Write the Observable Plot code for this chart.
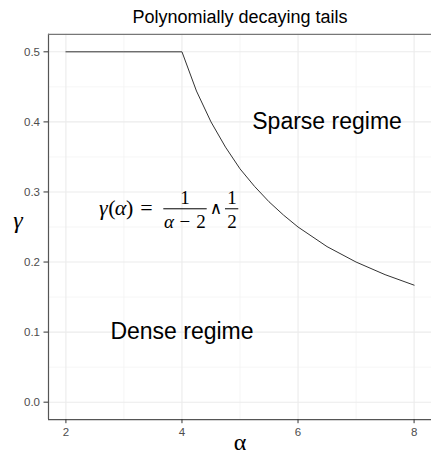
<!DOCTYPE html>
<html><head><meta charset="utf-8">
<script src="https://cdn.jsdelivr.net/npm/d3@7"></script>
<script src="https://cdn.jsdelivr.net/npm/@observablehq/plot@0.6"></script>
<style>
body{margin:0;background:#fff}
g[aria-label$="tick label"]{font-size:11.5px !important;}
</style>
</head><body><div id="chart"></div>
<script>
// ---- data ----
const alpha = [2, 3, 4, 4.25, 4.5, 4.75, 5, 5.25, 5.5, 5.75, 6, 6.5, 7, 7.5, 8];
const gamma = [0.5, 0.5, 0.5, 0.444, 0.4, 0.364, 0.333, 0.308, 0.286, 0.267, 0.25, 0.222, 0.2, 0.182, 0.167];
const xTicks = [2, 4, 6, 8];
const xMinor = [3, 5, 7];
const yTicks = [0, 0.1, 0.2, 0.3, 0.4, 0.5];
const yMinor = [0.05, 0.15, 0.25, 0.35, 0.45];
const title = "Polynomially decaying tails";
const xLabel = "α";
const yLabel = "γ";
const sparseLabel = "Sparse regime";
const denseLabel = "Dense regime";

const curve = d3.zip(alpha, gamma).map(([a, g]) => ({a, g}));

const xDomain = [1.7, 8.3];
const yDomain = [-0.025, 0.525];

// formula anchor (data coords) and pieces
const fx = 3.8, fy = 0.27;
const serif = "'Liberation Serif', 'Times New Roman', serif";
const formulaPieces = [
  {t: "γ", dx: -67, dy: 2, it: true, fs: 22},
  {t: "(", dx: -58.5, dy: 2, it: false, fs: 22},
  {t: "α", dx: -49.8, dy: 2, it: true, fs: 22},
  {t: ")", dx: -40.6, dy: 2, it: false, fs: 22},
  {t: "=", dx: -24, dy: 2, it: false, fs: 22},
  {t: "1", dx: 14.7, dy: -9.2, it: false, fs: 19},
  {t: "α", dx: -1.5, dy: 15.2, it: true, fs: 19},
  {t: "−", dx: 14.5, dy: 15.2, it: false, fs: 19},
  {t: "2", dx: 30.7, dy: 15.2, it: false, fs: 19},
  {t: "∧", dx: 45.7, dy: 1, it: false, fs: 17, font: "'DejaVu Serif', serif"},
  {t: "1", dx: 61.7, dy: -9.2, it: false, fs: 19},
  {t: "2", dx: 61.7, dy: 15.2, it: false, fs: 19}
];

const formulaMarks = formulaPieces.map(p => Plot.text([p.t], {
  x: () => fx, y: () => fy, text: d => d, dx: p.dx, dy: p.dy,
  lineAnchor: "bottom", textAnchor: "middle", fontSize: p.fs,
  fontStyle: p.it ? "italic" : "normal", fontFamily: p.font || serif, fill: "#000"
}));

const chart = Plot.plot({
  width: 431, height: 456,
  marginLeft: 48, marginRight: 0, marginTop: 33.8, marginBottom: 36.8,
  x: {domain: xDomain, axis: null},
  y: {domain: yDomain, axis: null},
  style: {fontFamily: "'Liberation Sans', Arial, sans-serif", fontSize: "11px", background: "#fff", overflow: "visible"},
  marks: [
    Plot.ruleX(xMinor, {stroke: "#f0f0f0", strokeWidth: 0.7}),
    Plot.ruleY(yMinor, {stroke: "#f0f0f0", strokeWidth: 0.7}),
    Plot.ruleX(xTicks, {stroke: "#ebebeb", strokeWidth: 1.1}),
    Plot.ruleY(yTicks, {stroke: "#ebebeb", strokeWidth: 1.1}),
    Plot.line(curve, {x: "a", y: "g", stroke: "#333", strokeWidth: 1}),
    // panel border (right edge falls outside the picture)
    Plot.ruleX([xDomain[0]], {stroke: "#555", strokeWidth: 1.2}),
    Plot.ruleY([yDomain[0]], {stroke: "#555", strokeWidth: 1.2}),
    Plot.ruleY([yDomain[1]], {stroke: "#777", strokeWidth: 1.2}),
    Plot.axisX(xTicks, {tickSize: 4, tickPadding: 4, fontSize: 11.5, stroke: "#333", fill: "#4d4d4d", tickFormat: d => String(d), label: null}),
    Plot.axisY(yTicks, {tickSize: 4.5, tickPadding: 4, fontSize: 11.5, stroke: "#333", fill: "#4d4d4d", tickFormat: d => d.toFixed(1), label: null}),
    Plot.text([title], {frameAnchor: "top", lineAnchor: "bottom", dy: -11.1, fontSize: 18, fill: "#000"}),
    Plot.text([yLabel], {frameAnchor: "left", lineAnchor: "bottom", dx: -35.2, dy: 1, fontSize: 24, fontStyle: "italic", fontFamily: serif, fill: "#000"}),
    Plot.text([xLabel], {frameAnchor: "bottom", lineAnchor: "bottom", dy: 30, fontSize: 24, fontFamily: serif, fill: "#000"}),
    Plot.text([sparseLabel], {x: () => 6.5, y: () => 0.4, text: d => d, fontSize: 23, fill: "#000"}),
    Plot.text([denseLabel], {x: () => 4, y: () => 0.1, text: d => d, fontSize: 23, fill: "#000"}),
    Plot.ruleY([fy], {x1: 3.687, x2: 4.435, dy: -4.2, stroke: "#000", strokeWidth: 1}),
    Plot.ruleY([fy], {x1: 4.75, x2: 4.979, dy: -4.2, stroke: "#000", strokeWidth: 1}),
    ...formulaMarks
  ]
});
document.getElementById("chart").appendChild(chart);
</script>
</body></html>
